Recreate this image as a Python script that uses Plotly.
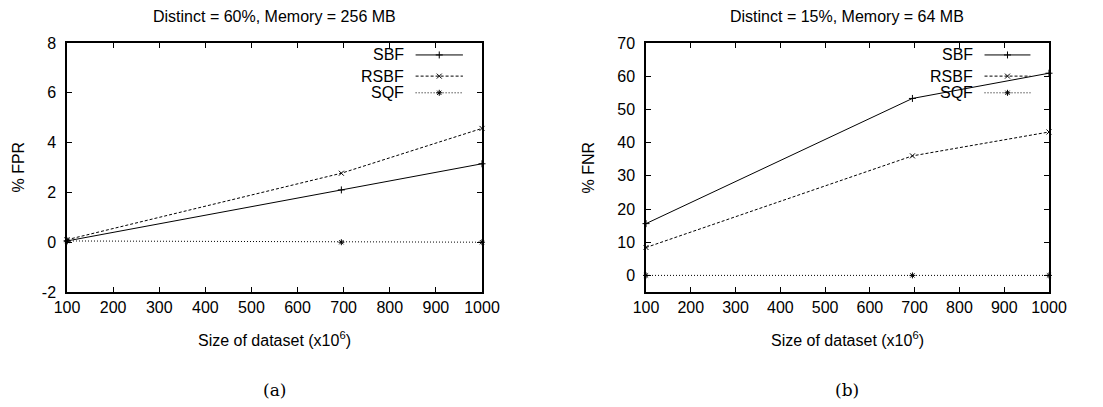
import plotly.graph_objects as go

# ---- data ----
sizes = [100, 695, 1000]
fpr_sbf = [0.05, 2.1, 3.15]
fpr_rsbf = [0.1, 2.77, 4.57]
fpr_sqf = [0.05, 0.0, 0.0]

fnr_sbf = [15.6, 53.3, 60.9]
fnr_rsbf = [8.4, 36.0, 43.2]
fnr_sqf = [0.0, 0.0, 0.0]

series_names = ["SBF", "RSBF", "SQF"]
panel_titles = ["Distinct = 60%, Memory = 256 MB", "Distinct = 15%, Memory = 64 MB"]
panel_labels = ["(a)", "(b)"]
y_titles = ["% FPR", "% FNR"]
x_title = "Size of dataset (x10<sup>6</sup>)"
x_ticks = [100, 200, 300, 400, 500, 600, 700, 800, 900, 1000]
fpr_ticks = [-2, 0, 2, 4, 6, 8]
fnr_ticks = [0, 10, 20, 30, 40, 50, 60, 70]

# ---- styles ----
FONT = "Liberation Sans, Arial, sans-serif"
FS = 16
MS = 5
styles = {
    "SBF": dict(dash="solid", symbol="cross-thin-open"),
    "RSBF": dict(dash="3px,2px", symbol="x-thin-open"),
    "SQF": dict(dash="1px,2px", symbol="asterisk-open"),
}

OFF = 8  # page body margin
W, H = 1103 - OFF, 407 - OFF


def px(x):
    return (x - OFF) / W


def py(y):
    return 1 - (y - OFF) / H


dom_left = [px(67), px(482)]
dom_right = [px(646), px(1049)]
dom_y = [py(292), py(43)]

fig = go.Figure()

panels = [
    ("x", "y", [fpr_sbf, fpr_rsbf, fpr_sqf]),
    ("x2", "y2", [fnr_sbf, fnr_rsbf, fnr_sqf]),
]
for xa, ya, vals in panels:
    for name, v in zip(series_names, vals):
        st = styles[name]
        fig.add_trace(go.Scatter(
            x=sizes, y=v, mode="lines+markers", name=name, showlegend=False,
            xaxis=xa, yaxis=ya, cliponaxis=False,
            line=dict(color="black", width=1, dash=st["dash"]),
            marker=dict(symbol=st["symbol"], size=MS, color="black",
                        line=dict(color="black", width=1)),
        ))

# legend samples on overlay axes [0,1]
leg_rows = [0.952, 0.867, 0.80]
for xa, ya in [("x3", "y3"), ("x4", "y4")]:
    for name, ry in zip(series_names, leg_rows):
        st = styles[name]
        fig.add_trace(go.Scatter(
            x=[0.84, 0.897, 0.954], y=[ry, ry, ry], mode="lines", showlegend=False,
            xaxis=xa, yaxis=ya, hoverinfo="skip",
            line=dict(color="black", width=1, dash=st["dash"]),
        ))
        fig.add_trace(go.Scatter(
            x=[0.897], y=[ry], mode="markers", showlegend=False,
            xaxis=xa, yaxis=ya, hoverinfo="skip",
            marker=dict(symbol=st["symbol"], size=MS, color="black",
                        line=dict(color="black", width=1)),
        ))

axis_common = dict(
    showgrid=False, zeroline=False, showline=True, linecolor="black", linewidth=1.5,
    mirror="allticks", ticks="inside", ticklen=5, tickcolor="black", tickwidth=1,
    tickfont=dict(family=FONT, size=FS, color="black"), automargin=False,
)

fig.update_layout(
    width=W, height=H, autosize=False,
    margin=dict(l=0, r=0, t=0, b=0),
    paper_bgcolor="white", plot_bgcolor="white",
    font=dict(family=FONT, color="black"),
    xaxis=dict(domain=dom_left, range=[100, 1000], tickvals=x_ticks, anchor="y", **axis_common),
    yaxis=dict(domain=dom_y, range=[-2, 8], tickvals=fpr_ticks, ticklabelstandoff=6,
               ticktext=[str(t) for t in fpr_ticks], anchor="x", **axis_common),
    xaxis2=dict(domain=dom_right, range=[100, 1000], tickvals=x_ticks, anchor="y2", **axis_common),
    yaxis2=dict(domain=dom_y, range=[-5, 70], tickvals=fnr_ticks, ticklabelstandoff=6,
                ticktext=[str(t) for t in fnr_ticks], anchor="x2", **axis_common),
    xaxis3=dict(overlaying="x", range=[0, 1], visible=False, anchor="y3"),
    yaxis3=dict(overlaying="y", range=[0, 1], visible=False, anchor="x3"),
    xaxis4=dict(overlaying="x2", range=[0, 1], visible=False, anchor="y4"),
    yaxis4=dict(overlaying="y2", range=[0, 1], visible=False, anchor="x4"),
)

annotations = []
ytitle_x = [px(18), px(588)]
for i, dom in enumerate([dom_left, dom_right]):
    cx = (dom[0] + dom[1]) / 2
    annotations.append(dict(text=panel_titles[i], x=cx, y=py(16), xref="paper", yref="paper",
                            showarrow=False, xanchor="center", yanchor="middle",
                            font=dict(family=FONT, size=FS, color="black")))
    annotations.append(dict(text=x_title, x=cx, y=py(339), xref="paper", yref="paper",
                            showarrow=False, xanchor="center", yanchor="middle",
                            font=dict(family=FONT, size=FS, color="black")))
    annotations.append(dict(text=y_titles[i], x=ytitle_x[i], y=(dom_y[0] + dom_y[1]) / 2,
                            xref="paper", yref="paper", textangle=-90,
                            showarrow=False, xanchor="center", yanchor="middle",
                            font=dict(family=FONT, size=FS, color="black")))
    annotations.append(dict(text=panel_labels[i], x=cx, y=py(390), xref="paper", yref="paper",
                            showarrow=False, xanchor="center", yanchor="middle",
                            font=dict(family="DejaVu Serif, serif", size=17, color="black")))
    xa = "x3" if i == 0 else "x4"
    ya = "y3" if i == 0 else "y4"
    for name, ry in zip(series_names, leg_rows):
        annotations.append(dict(text=name, x=0.816, y=ry, xref=xa, yref=ya, showarrow=False,
                                xanchor="right", yanchor="middle",
                                font=dict(family=FONT, size=FS, color="black")))
fig.update_layout(annotations=annotations)

fig.write_html("out.html")
